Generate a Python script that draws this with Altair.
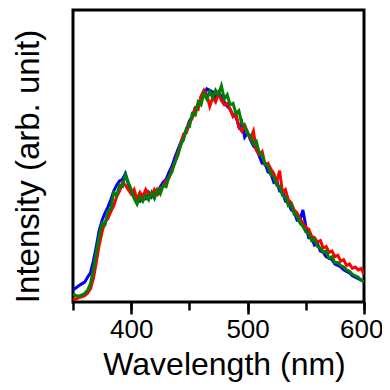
import altair as alt
import pandas as pd

wavelength = [350, 352.5, 355, 357.5, 360, 362.5, 365, 367.5, 370, 372.5,
              375, 377.5, 380, 382.5, 385, 387.5, 390, 392.5, 395, 397.5,
              400, 402.5, 405, 407.5, 410, 412.5, 415, 417.5, 420, 422.5,
              425, 427.5, 430, 432.5, 435, 437.5, 440, 442.5, 445, 447.5,
              450, 452.5, 455, 457.5, 460, 462.5, 465, 467.5, 470, 472.5,
              475, 477.5, 480, 482.5, 485, 487.5, 490, 492.5, 495, 497.5,
              500, 502.5, 505, 507.5, 510, 512.5, 515, 517.5, 520, 522.5,
              525, 527.5, 530, 532.5, 535, 537.5, 540, 542.5, 545, 547.5,
              550, 552.5, 555, 557.5, 560, 562.5, 565, 567.5, 570, 572.5,
              575, 577.5, 580, 582.5, 585, 587.5, 590, 592.5, 595, 597.5,
              600]

blue = [4.2, 4.8, 5.6, 6.2, 6.8, 8.5, 10.0, 14.0, 19.0, 24.5,
        28.0, 30.5, 32.5, 35.0, 38.0, 40.0, 41.5, 42.0, 44.0, 40.5,
        38.0, 36.0, 35.0, 34.5, 36.5, 35.5, 37.5, 36.0, 38.0, 37.0,
        39.5, 41.0, 42.0, 44.5, 46.5, 49.5, 52.0, 54.5, 57.0, 59.0,
        62.0, 63.5, 66.5, 67.0, 70.0, 70.5, 73.0, 72.5, 72.0, 70.0,
        71.5, 70.5, 68.5, 67.0, 66.0, 64.0, 63.5, 60.0, 61.5, 56.5,
        58.0, 55.5, 53.5, 52.5, 50.0, 47.5, 47.5, 44.5, 44.0, 41.0,
        41.5, 38.0, 38.0, 34.5, 34.0, 31.5, 31.0, 28.0, 28.0, 31.5,
        26.0, 22.0, 22.0, 19.5, 20.0, 17.5, 17.0, 15.5, 15.0, 14.5,
        13.0, 12.5, 12.0, 11.0, 10.5, 10.0, 9.0, 8.5, 8.0, 7.5,
        7.0]

red = [1.2, 1.0, 1.5, 1.8, 2.2, 3.0, 4.5, 8.0, 13.5, 19.5,
       24.0, 27.5, 28.5, 31.0, 33.0, 36.0, 38.0, 41.0, 40.0, 38.5,
       37.0, 38.5, 35.0, 37.5, 36.0, 38.5, 37.0, 36.5, 38.5, 37.0,
       39.0, 39.5, 41.5, 42.5, 45.5, 47.5, 51.0, 53.5, 57.5, 58.0,
       61.5, 63.0, 66.5, 66.0, 70.5, 72.5, 71.0, 67.0, 70.0, 68.5,
       71.5, 69.0, 67.5, 68.0, 66.0, 63.5, 64.5, 60.0, 58.5, 60.5,
       58.0, 56.0, 58.5, 52.0, 50.5, 51.5, 47.0, 47.5, 45.5, 44.0,
       41.0, 45.0, 37.5, 38.5, 35.0, 34.0, 31.5, 30.5, 28.5, 27.0,
       25.5, 25.0, 22.5, 22.0, 20.5, 21.0, 18.5, 19.0, 17.0, 17.5,
       15.5, 16.0, 14.0, 14.5, 12.5, 13.0, 11.5, 12.0, 11.0, 11.5,
       9.5]

green = [2.8, 2.2, 2.0, 2.4, 2.9, 4.0, 6.3, 11.0, 17.0, 22.5,
         27.0, 26.5, 31.0, 32.0, 37.5, 36.5, 40.0, 39.5, 43.5, 41.0,
         38.5, 35.5, 33.5, 36.0, 34.5, 36.5, 35.0, 37.5, 35.5, 38.5,
         37.0, 40.0, 39.5, 43.0, 44.5, 48.0, 50.0, 54.0, 55.5, 59.5,
         60.0, 64.5, 64.0, 68.5, 67.5, 71.5, 69.5, 72.0, 70.0, 72.5,
         71.0, 74.0, 69.5, 71.0, 67.5, 68.0, 64.5, 65.5, 61.0, 60.5,
         57.5, 57.0, 54.0, 55.0, 51.0, 50.5, 47.0, 46.5, 43.5, 43.0,
         40.0, 39.5, 36.5, 36.0, 33.0, 33.5, 30.0, 29.5, 27.0, 26.0,
         24.0, 23.5, 21.0, 21.5, 19.0, 18.5, 17.0, 17.5, 15.0, 15.5,
         13.5, 13.5, 12.5, 12.0, 11.0, 10.5, 9.5, 9.0, 8.5, 7.5,
         7.0]

minor_ticks = [350, 400, 450, 500, 550, 600]
major_ticks = [400, 500, 600]
series_colors = {"blue": "#0000FF", "red": "#FF0000", "green": "#008000"}

FONT = "Liberation Sans"

xscale = alt.Scale(domain=[350, 600], nice=False, zero=False)
yscale = alt.Scale(domain=[0, 100], nice=False, zero=False)

major_axis = alt.Axis(
    orient="bottom",
    values=major_ticks,
    title="Wavelength (nm)",
    titleFontSize=32, titleFont=FONT, titleFontWeight="normal", titleColor="black",
    titleX=151, titleY=72, titleBaseline="alphabetic", titleAlign="center",
    labelFontSize=26, labelFont=FONT, labelColor="black",
    labelPadding=2, labelFlush=True, labelFlushOffset=19, labelOverlap=False,
    tickSize=12, tickWidth=2.5, tickColor="black",
    domain=False, grid=False,
)
minor_axis = alt.Axis(
    orient="bottom",
    values=minor_ticks,
    title=None, labels=False,
    tickSize=8, tickWidth=2.5, tickColor="black",
    domain=False, grid=False,
)
yaxis = alt.Axis(
    title="Intensity (arb. unit)",
    titleFontSize=33, titleFont=FONT, titleFontWeight="normal", titleColor="black",
    titleX=-28, titleY=156, titleAlign="center", titleBaseline="bottom", titleAngle=270,
    labels=False, ticks=False, domain=False, grid=False,
)

def layer(name, values, xax):
    df = pd.DataFrame({"wl": wavelength, "v": values})
    return alt.Chart(df).mark_line(
        color=series_colors[name], strokeWidth=3, clip=True
    ).encode(
        x=alt.X("wl:Q", scale=xscale, axis=xax),
        y=alt.Y("v:Q", scale=yscale, axis=yaxis),
    )

chart = alt.layer(
    layer("blue", blue, major_axis),
    layer("red", red, None),
    layer("green", green, minor_axis),
).resolve_axis(
    x="independent"
).properties(
    width=291, height=292,
    autosize=alt.AutoSizeParams(type="none"),
    padding={"left": 65, "top": 2, "right": 18, "bottom": 80},
).configure_view(
    stroke="black", strokeWidth=3
)

chart.save("out.html", embed_options={"renderer": "svg", "actions": False})
